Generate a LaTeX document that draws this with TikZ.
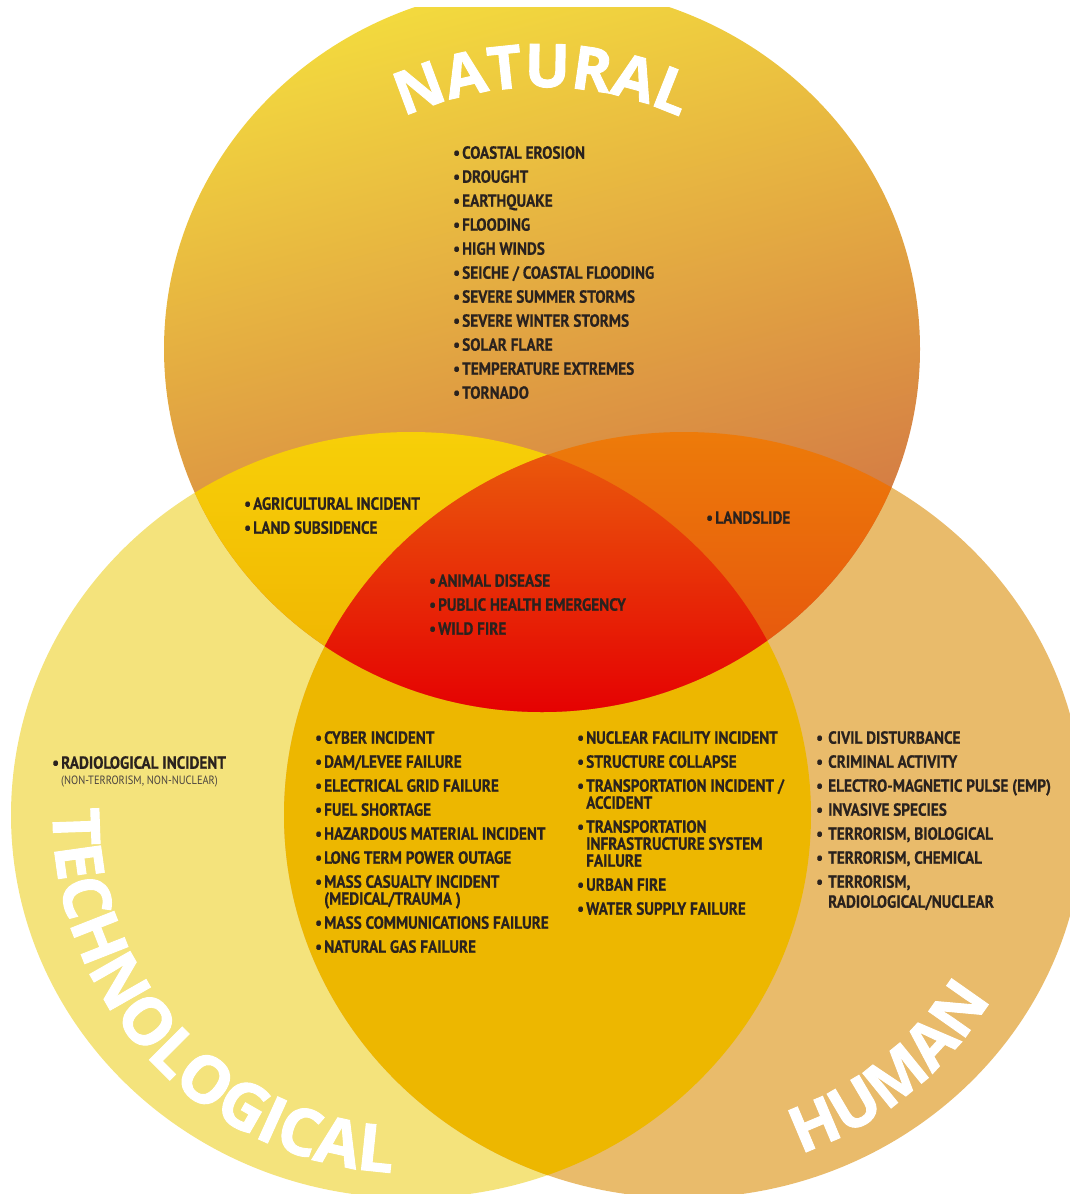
\documentclass[tikz,border=0pt]{standalone}
\usepackage{fontspec}
\newfontfamily\listfont[FakeStretch=0.87, BoldFeatures={FakeBold=0.6}]{PT Sans}
\newfontfamily\headfont[BoldFeatures={FakeBold=1.5}]{Open Sans}
\usetikzlibrary{decorations.text}

\definecolor{techpale}{RGB}{244,227,124}
\definecolor{humantan}{RGB}{233,187,107}
\definecolor{techhum}{RGB}{237,183,0}
\definecolor{natTop}{RGB}{243,218,62}
\definecolor{natMid}{RGB}{232,168,58}
\definecolor{natBot}{RGB}{206,104,70}
\definecolor{nattechTop}{RGB}{247,208,8}
\definecolor{nattechBot}{RGB}{239,176,0}
\definecolor{nathumTop}{RGB}{237,124,10}
\definecolor{nathumBot}{RGB}{229,78,14}
\definecolor{allTop}{RGB}{234,90,12}
\definecolor{allBot}{RGB}{229,0,2}
\definecolor{ink}{RGB}{42,34,30}

% bullet and hanging indent for the hazard lists
\newcommand{\hzb}{\makebox[9pt][l]{•}}
\newcommand{\hzi}{\hspace*{9pt}}
\newcommand{\hzbw}{\makebox[12pt][l]{•}}
\newcommand{\hziw}{\hspace*{12pt}}

% the three sets
\def\natC{(542,349) ellipse [x radius=378, y radius=363]}
\def\techC{(411,815) ellipse [x radius=400, y radius=383]}
\def\humC{(684,815) ellipse [x radius=400, y radius=383]}

\tikzset{
  hazlist/.style={anchor=north west, inner sep=0pt, align=left, text=ink,
    font=\fontsize{17.5}{17}\listfont\bfseries},
  catname/.style 2 args={decorate, text=white,
    decoration={text along path, text align=center,
      text={|\fontsize{#2}{#2}\headfont\bfseries\color{white}|#1}}}
}

\begin{document}
\begin{tikzpicture}[x=1pt, y=-1pt]
  \useasboundingbox (0,0) rectangle (1070,1194);
  \clip (0,7) rectangle (1070,1194);

  % single sets
  \fill[techpale] \techC;
  \fill[humantan] \humC;
  \begin{scope}
    \clip \techC;
    \fill[techhum] \humC;
  \end{scope}
  \shade[top color=natTop, middle color=natMid, bottom color=natBot, shading angle=15] \natC;

  % overlaps with the natural set
  \begin{scope}
    \clip \natC;
    \clip \techC;
    \shade[top color=nattechTop, bottom color=nattechBot] (0,425) rectangle (1070,715);
  \end{scope}
  \begin{scope}
    \clip \natC;
    \clip \humC;
    \shade[top color=nathumTop, bottom color=nathumBot] (0,425) rectangle (1070,715);
  \end{scope}
  \begin{scope}
    \clip \natC;
    \clip \techC;
    \clip \humC;
    \shade[top color=allTop, bottom color=allBot] (0,450) rectangle (1070,715);
  \end{scope}

  % hazard lists
  \node[hazlist] (natlist) at (453,146) {\hzb COASTAL EROSION\\[7pt]
    \hzb DROUGHT\\[7pt]
    \hzb EARTHQUAKE\\[7pt]
    \hzb FLOODING\\[7pt]
    \hzb HIGH WINDS\\[7pt]
    \hzb SEICHE / COASTAL FLOODING\\[7pt]
    \hzb SEVERE SUMMER STORMS\\[7pt]
    \hzb SEVERE WINTER STORMS\\[7pt]
    \hzb SOLAR FLARE\\[7pt]
    \hzb TEMPERATURE EXTREMES\\[7pt]
    \hzb TORNADO};
  \node[hazlist] (nattech) at (244,497) {\hzb AGRICULTURAL INCIDENT\\[7pt]
    \hzb LAND SUBSIDENCE};
  \node[hazlist] (nathum) at (706,511) {\hzb LANDSLIDE};
  \node[hazlist] (allthree) at (429,574) {\hzb ANIMAL DISEASE\\[7pt]
    \hzb PUBLIC HEALTH EMERGENCY\\[7pt]
    \hzb WILD FIRE};
  \node[hazlist] (techonly) at (52,756) {\hzb RADIOLOGICAL INCIDENT};
  \node[anchor=north west, inner sep=0pt, text=ink!85,
    font=\fontsize{12}{12}\listfont] (technote) at (61,776) {(NON-TERRORISM, NON-NUCLEAR)};
  \node[hazlist] (techhumA) at (315,731) {\hzb CYBER INCIDENT\\[7pt]
    \hzb DAM/LEVEE FAILURE\\[7pt]
    \hzb ELECTRICAL GRID FAILURE\\[7pt]
    \hzb FUEL SHORTAGE\\[7pt]
    \hzb HAZARDOUS MATERIAL INCIDENT\\[7pt]
    \hzb LONG TERM POWER OUTAGE\\[7pt]
    \hzb MASS CASUALTY INCIDENT\\
    \hzi (MEDICAL/TRAUMA )\\[7pt]
    \hzb MASS COMMUNICATIONS FAILURE\\[7pt]
    \hzb NATURAL GAS FAILURE};
  \node[hazlist] (techhumB) at (577,731) {\hzb NUCLEAR FACILITY INCIDENT\\[7pt]
    \hzb STRUCTURE COLLAPSE\\[7pt]
    \hzb TRANSPORTATION INCIDENT /\\
    \hzi ACCIDENT\\[7pt]
    \hzb TRANSPORTATION\\
    \hzi INFRASTRUCTURE SYSTEM\\
    \hzi FAILURE\\[7pt]
    \hzb URBAN FIRE\\[7pt]
    \hzb WATER SUPPLY FAILURE};
  \node[hazlist] (humonly) at (816,731) {\hzbw CIVIL DISTURBANCE\\[7pt]
    \hzbw CRIMINAL ACTIVITY\\[7pt]
    \hzbw ELECTRO-MAGNETIC PULSE (EMP)\\[7pt]
    \hzbw INVASIVE SPECIES\\[7pt]
    \hzbw TERRORISM, BIOLOGICAL\\[7pt]
    \hzbw TERRORISM, CHEMICAL\\[7pt]
    \hzbw TERRORISM,\\[3pt]
    \hziw RADIOLOGICAL/NUCLEAR};

  % set names bent along the circles
  \path[catname={NATURAL}{60}] (542,420) ++(-125:333) arc[start angle=-125, end angle=-55, radius=333];
  \path[catname={TECHNOLOGICAL}{65}] (411,815) ++(-163:358) arc[start angle=-163, end angle=-283, radius=358];
  \path[catname={HUMAN}{63}] (684,815) ++(-260:358) arc[start angle=-260, end angle=-358, radius=358];
\end{tikzpicture}
\end{document}
